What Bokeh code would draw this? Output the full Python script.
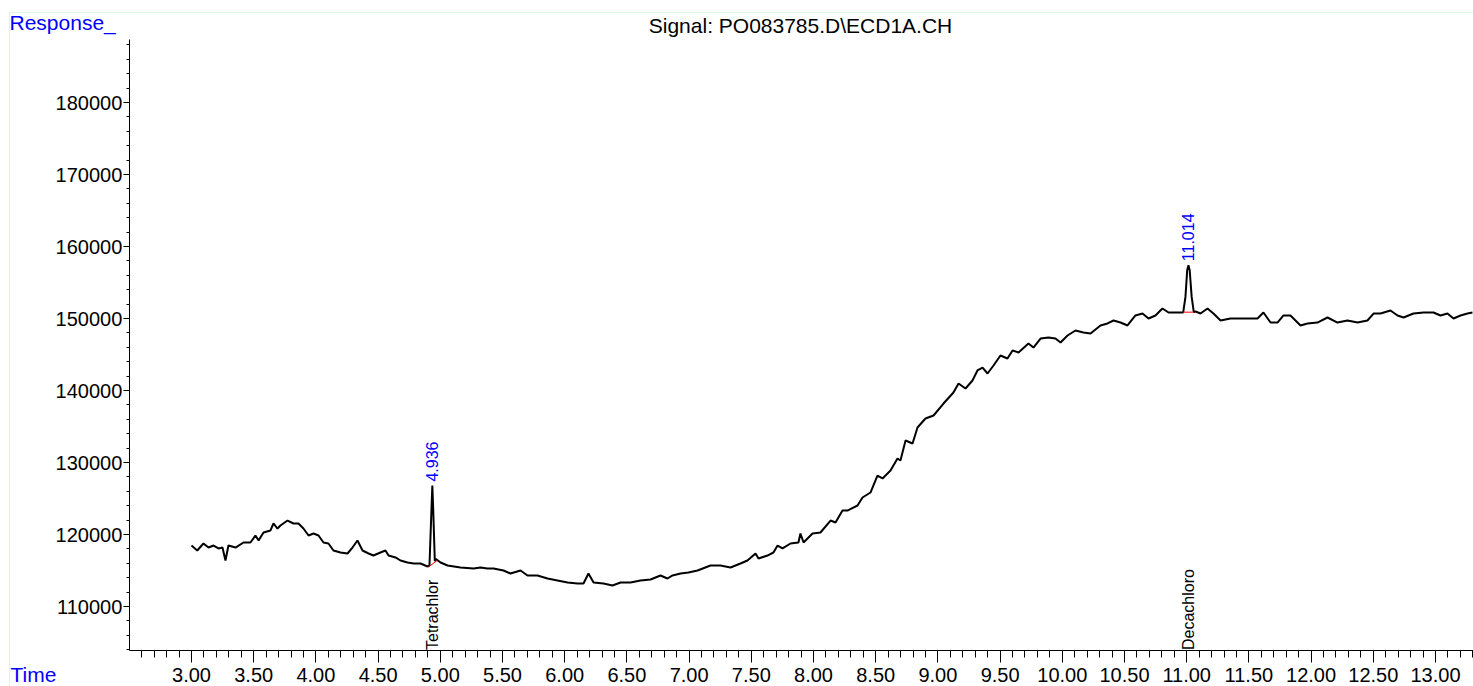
import math
from bokeh.plotting import figure
from bokeh.models import (Range1d, SingleIntervalTicker, NumeralTickFormatter,
                          Label, BoxAnnotation)
from bokeh.embed import file_html
from bokeh.resources import INLINE

# ---- data (time in min, detector response) ----
time_min = [
    3.000, 3.046, 3.096, 3.137, 3.177, 3.217, 3.249, 3.273, 3.297, 3.354,
    3.418, 3.474, 3.514, 3.539, 3.579, 3.635, 3.659, 3.691, 3.715, 3.772,
    3.820, 3.860, 3.900, 3.941, 3.981, 4.021, 4.061, 4.101, 4.141, 4.198,
    4.254, 4.294, 4.334, 4.375, 4.423, 4.463, 4.519, 4.559, 4.584, 4.640,
    4.680, 4.736, 4.785, 4.841, 4.897, 4.913, 4.930, 4.936, 4.942, 4.956,
    4.965, 5.002, 5.058, 5.162, 5.267, 5.323, 5.379, 5.428, 5.508, 5.564,
    5.645, 5.701, 5.781, 5.862, 5.942, 6.023, 6.103, 6.151, 6.191, 6.232,
    6.312, 6.384, 6.449, 6.529, 6.609, 6.690, 6.770, 6.826, 6.867, 6.931,
    6.995, 7.068, 7.172, 7.252, 7.333, 7.413, 7.469, 7.534, 7.558, 7.630,
    7.678, 7.711, 7.751, 7.815, 7.879, 7.895, 7.920, 7.992, 8.056, 8.137,
    8.177, 8.233, 8.273, 8.354, 8.394, 8.458, 8.514, 8.555, 8.619, 8.675,
    8.699, 8.740, 8.796, 8.836, 8.900, 8.965, 9.045, 9.125, 9.166, 9.222,
    9.278, 9.318, 9.359, 9.399, 9.447, 9.503, 9.559, 9.600, 9.648, 9.728,
    9.768, 9.825, 9.889, 9.945, 9.986, 10.042, 10.106, 10.170, 10.227, 10.307,
    10.363, 10.412, 10.468, 10.524, 10.588, 10.645, 10.693, 10.749, 10.805, 10.854,
    10.926, 10.972, 10.990, 11.004, 11.014, 11.024, 11.040, 11.057, 11.071, 11.111,
    11.167, 11.215, 11.272, 11.352, 11.432, 11.513, 11.569, 11.617, 11.674, 11.730,
    11.778, 11.834, 11.915, 11.971, 12.051, 12.132, 12.212, 12.293, 12.373, 12.453,
    12.502, 12.558, 12.638, 12.695, 12.743, 12.823, 12.904, 12.984, 13.040, 13.096,
    13.145, 13.201, 13.257, 13.297,
]
response = [
    118470, 117780, 118750, 118190, 118470, 118060, 118190, 116390, 118470, 118190,
    118890, 118890, 119860, 119170, 120280, 120560, 121530, 120830, 121250, 121940,
    121530, 121530, 120830, 119860, 120140, 119860, 118890, 118750, 117780, 117500,
    117360, 118190, 119170, 117780, 117360, 117080, 117500, 117780, 117080, 116810,
    116390, 116110, 115970, 115970, 115560, 115700, 124000, 126800, 124000, 116300,
    116600, 116110, 115690, 115420, 115280, 115420, 115280, 115280, 115000, 114580,
    115000, 114310, 114310, 113890, 113610, 113330, 113190, 113190, 114580, 113330,
    113190, 112920, 113330, 113330, 113610, 113750, 114310, 113890, 114310, 114580,
    114720, 115000, 115690, 115690, 115420, 115970, 116390, 117360, 116670, 117080,
    117500, 118470, 118060, 118750, 118890, 120140, 118890, 120140, 120280, 121940,
    121670, 123330, 123330, 124030, 125140, 125830, 128190, 127780, 128890, 130560,
    130280, 133060, 132640, 134860, 136110, 136530, 138190, 139720, 140970, 140280,
    141390, 142780, 143190, 142360, 143470, 144860, 144440, 145560, 145280, 146530,
    145970, 147220, 147360, 147220, 146670, 147640, 148330, 148060, 147920, 149030,
    149310, 149720, 149440, 149030, 150420, 150690, 150000, 150420, 151390, 150830,
    150830, 150850, 153000, 156700, 157400, 156700, 153000, 150900, 150970, 150690,
    151390, 150690, 149720, 150000, 150000, 150000, 150000, 150830, 149440, 149440,
    150420, 150420, 149030, 149310, 149440, 150140, 149440, 149720, 149440, 149720,
    150690, 150690, 151110, 150420, 150140, 150690, 150830, 150830, 150420, 150690,
    150000, 150420, 150690, 150830,
]

# integrated peaks
peak_rt = [4.936, 11.014]
peak_apex = [126800, 157400]
peak_names = ["Tetrachlor", "Decachloro"]
base_t0 = [4.903, 10.972]
base_t1 = [4.975, 11.057]
base_v0 = [115460, 150880]
base_v1 = [116390, 150880]

title_text = "Signal: PO083785.D\\ECD1A.CH"
y_title = "Response_"
x_title = "Time"

# axis extents (data units); the x axis starts just after 2.50 (no label there)
x_axis_bounds = (2.5005, 13.3055)
y_axis_bounds = (103820, 188750)

FONT = "Liberation Sans"
W, H = 1473, 686

p = figure(width=W, height=H,
           x_range=Range1d(1.46463, 13.30547), y_range=Range1d(98889, 194167),
           output_backend="svg", toolbar_location=None,
           min_border=0, min_border_left=0, min_border_right=0,
           min_border_top=0, min_border_bottom=0)
p.background_fill_color = "white"
p.border_fill_color = "white"
p.outline_line_color = None
p.grid.visible = False

# axes (drawn at fixed positions inside the full-canvas frame)
xa = p.xaxis[0]
xa.fixed_location = y_axis_bounds[0]
xa.bounds = x_axis_bounds
xa.ticker = SingleIntervalTicker(interval=0.5, num_minor_ticks=5)
xa.formatter = NumeralTickFormatter(format="0.00")
xa.major_tick_out = 12
xa.major_tick_in = 0
xa.minor_tick_out = 7
xa.minor_tick_in = 0
xa.major_label_standoff = 5
ya = p.yaxis[0]
ya.fixed_location = 2.5
ya.bounds = y_axis_bounds
ya.ticker = SingleIntervalTicker(interval=10000, num_minor_ticks=5)
ya.formatter = NumeralTickFormatter(format="0")
ya.major_tick_out = 6
ya.major_tick_in = 0
ya.minor_tick_out = 3
ya.minor_tick_in = 0
ya.major_label_standoff = 1
for ax in (xa, ya):
    ax.axis_line_color = "black"
    ax.major_tick_line_color = "black"
    ax.minor_tick_line_color = "black"
    ax.major_label_text_font = FONT
    ax.major_label_text_font_size = "20px"
    ax.major_label_text_color = "black"

# green page frame
p.add_layout(BoxAnnotation(left=9, right=3000, top=H - 12, bottom=-300,
                           left_units="screen", right_units="screen",
                           top_units="screen", bottom_units="screen",
                           fill_alpha=0, line_color="#8CE88C", line_width=1,
                           level="underlay"))

# signal trace
p.line(time_min, response, line_color="black", line_width=2)

# integration baselines
p.segment(x0=base_t0, y0=base_v0, x1=base_t1, y1=base_v1,
          line_color="red", line_width=1)

# peak annotations
for t, v, name in zip(peak_rt, peak_apex, peak_names):
    p.add_layout(Label(x=t, y=v, text=f"{t:.3f}", angle=math.pi / 2,
                       text_align="left", text_baseline="middle", y_offset=4,
                       text_color="blue", text_font=FONT, text_font_size="16px"))
    p.add_layout(Label(x=t, y=y_axis_bounds[0], text=name, angle=math.pi / 2,
                       text_align="left", text_baseline="middle", y_offset=1,
                       text_color="black", text_font=FONT, text_font_size="16px"))

# titles
p.add_layout(Label(x=800, y=H - 25, x_units="screen", y_units="screen",
                   text=title_text, text_align="center", text_baseline="alphabetic",
                   text_color="black", text_font=FONT, text_font_size="21px"))
p.add_layout(Label(x=9, y=H - 22, x_units="screen", y_units="screen",
                   text=y_title, text_align="left", text_baseline="alphabetic",
                   text_color="blue", text_font=FONT, text_font_size="21px"))
p.add_layout(Label(x=10, y=12, x_units="screen", y_units="screen",
                   text=x_title, text_align="left", text_baseline="alphabetic",
                   text_color="blue", text_font=FONT, text_font_size="21px"))

open("out.html", "w").write(file_html(p, INLINE))
